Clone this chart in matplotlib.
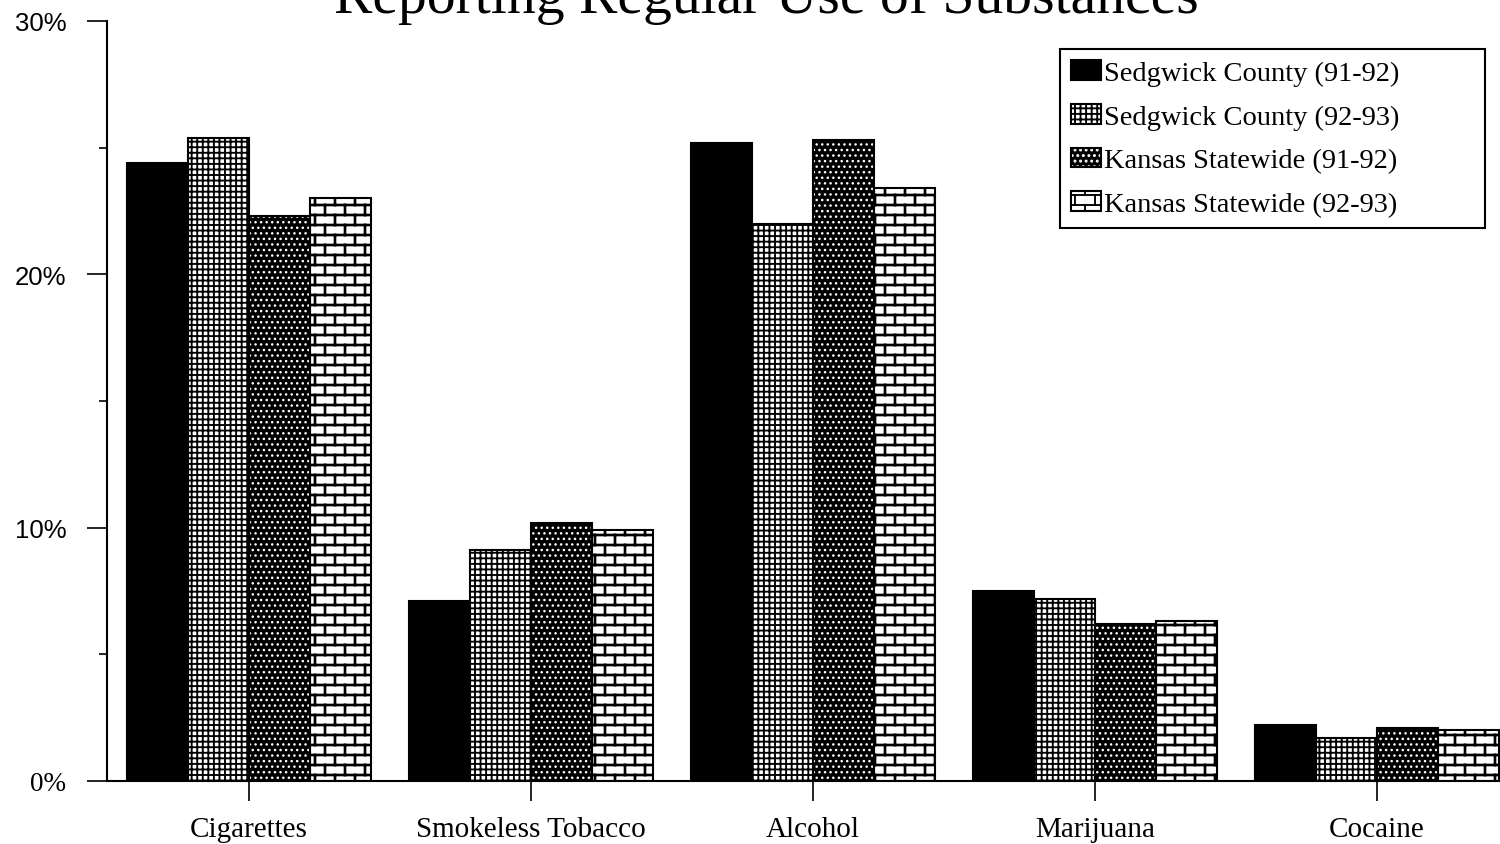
import numpy as np
import matplotlib
matplotlib.use("Agg")
import matplotlib.pyplot as plt
import matplotlib.hatch as mhatch
from matplotlib.path import Path
from matplotlib.patches import Patch
from matplotlib.ticker import FixedLocator, FuncFormatter
from matplotlib.legend_handler import HandlerTuple

# ---- data -------------------------------------------------------------
categories = ["Cigarettes", "Smokeless Tobacco", "Alcohol", "Marijuana", "Cocaine"]
series_names = ["Sedgwick County (91-92)", "Sedgwick County (92-93)",
                "Kansas Statewide (91-92)", "Kansas Statewide (92-93)"]
sedgwick_9192 = [24.4, 7.1, 25.2, 7.5, 2.2]
sedgwick_9293 = [25.4, 9.1, 22.0, 7.2, 1.7]
kansas_9192 = [22.3, 10.2, 25.3, 6.2, 2.1]
kansas_9293 = [23.0, 9.9, 23.4, 6.3, 2.0]
y_ticks = [0, 10, 20, 30]
y_minor = [5, 15, 25]
title = "Reporting Regular Use of Substances"

# ---- a brick hatch pattern --------------------------------------------
BRICK = "x|-"          # pattern key routed to the brick path below
_orig_get_path = mhatch.get_path


def _brick_path(rows=10, cols=5):
    verts, codes = [], []
    h = 1.0 / rows
    for k in range(rows):
        y = (k + 0.5) * h
        verts += [(0.0, y), (1.0, y)]
        codes += [Path.MOVETO, Path.LINETO]
        shift = 0.5 if k % 2 else 0.0
        for j in range(cols):
            x = ((j + 0.25 + shift) / cols) % 1.0
            y0, y1 = y, y + h
            if y1 > 1.0:
                verts += [(x, y0), (x, 1.0), (x, 0.0), (x, y1 - 1.0)]
                codes += [Path.MOVETO, Path.LINETO, Path.MOVETO, Path.LINETO]
            else:
                verts += [(x, y0), (x, y1)]
                codes += [Path.MOVETO, Path.LINETO]
    return Path(np.array(verts), np.array(codes, dtype=Path.code_type))


def _get_path(hatchpattern, density=6):
    if hatchpattern == BRICK:
        return _brick_path()
    return _orig_get_path(hatchpattern, density)


mhatch.get_path = _get_path

# ---- figure -----------------------------------------------------------
plt.rcParams["font.family"] = ["Liberation Serif", "DejaVu Serif"]
W, H = 1500, 845
fig = plt.figure(figsize=(W / 100, H / 100), dpi=100)
fig.patch.set_facecolor("white")
ax = fig.add_axes([107 / W, 63 / H, (W - 107) / W, 760 / H])

x = np.arange(len(categories))
bw = 0.2163
offsets = np.array([-1.5, -0.5, 0.5, 1.5]) * bw
values = [sedgwick_9192, sedgwick_9293, kansas_9192, kansas_9293]
# (face colour, hatch colour, hatch, hatch line width)
styles = [
    ("black", "black", None, 1.0),
    ("white", "black", "+++", 1.35),
    ("black", "white", "...", 1.0),
    ("white", "black", BRICK, 1.9),
]

handles = []
for vals, off, (fc, hc, hatch, hlw), name in zip(values, offsets, styles, series_names):
    with plt.rc_context({"hatch.linewidth": hlw}):
        bars = ax.bar(x + off, vals, bw, color=fc, edgecolor=hc, hatch=hatch,
                      linewidth=0, zorder=2)
        for b in bars:
            if hasattr(b, "set_hatch_linewidth"):
                b.set_hatch_linewidth(hlw)
        ax.bar(x + off, vals, bw, fill=False, edgecolor="black",
               linewidth=1.5, zorder=3)
        hp = Patch(facecolor=fc, edgecolor=hc, hatch=hatch, linewidth=0)
        if hasattr(hp, "set_hatch_linewidth"):
            hp.set_hatch_linewidth(hlw)
    op = Patch(fill=False, edgecolor="black", linewidth=1.5)
    handles.append((hp, op))

plt.rcParams["hatch.linewidth"] = 1.35

ax.set_xlim(-0.5035, -0.5035 + (W - 107) / 282)
ax.set_ylim(0, 30)
ax.spines["top"].set_visible(False)
ax.spines["right"].set_visible(False)
for s in ("left", "bottom"):
    ax.spines[s].set_linewidth(1.5)

ax.set_xticks(x)
ax.set_xticklabels(categories, fontsize=21)
ax.tick_params(axis="x", direction="out", length=14.4, width=1.2, pad=11)

ax.yaxis.set_major_locator(FixedLocator(y_ticks))
ax.yaxis.set_minor_locator(FixedLocator(y_minor))
ax.yaxis.set_major_formatter(FuncFormatter(lambda v, p: f"{v:.0f}%"))
ax.tick_params(axis="y", which="major", direction="out", length=14.4,
               width=1.2, pad=15, labelsize=18.5)
ax.tick_params(axis="y", which="minor", direction="out", length=6, width=1.2)
for lab in ax.get_yticklabels():
    if lab.get_text() != "0%":
        lab.set_fontfamily(["Liberation Sans", "DejaVu Sans"])
    else:
        lab.set_fontsize(19.5)

fig.text(766 / W, 1 - 13 / H, title, ha="center", va="baseline",
         fontsize=41.5)

leg = ax.legend(handles, series_names, loc="upper left", mode="expand",
                bbox_to_anchor=(1060 / W, 1 - 226 / H, 425 / W, 176 / H),
                bbox_transform=fig.transFigure, borderaxespad=0,
                fontsize=20.5, frameon=True, fancybox=False, framealpha=1,
                edgecolor="black", handlelength=1.05, handleheight=0.7,
                handletextpad=0.1, labelspacing=0.62, borderpad=0.4,
                handler_map={tuple: HandlerTuple(ndivide=1)})
leg.get_frame().set_linewidth(1.5)

fig.savefig("out.png", dpi=100, facecolor="white")
